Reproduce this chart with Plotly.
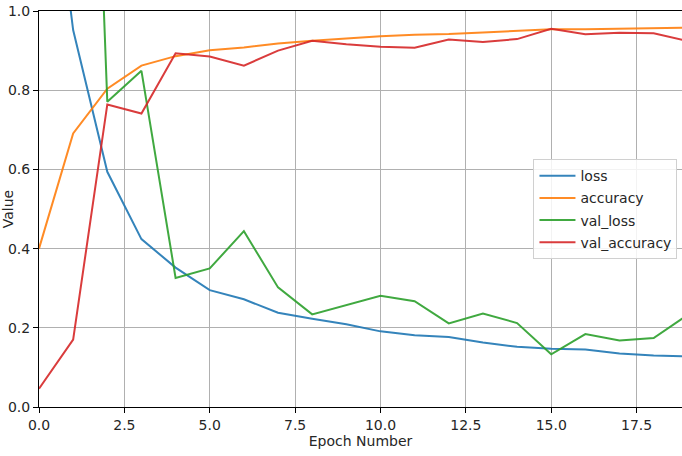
import plotly.graph_objects as go

epochs = list(range(20))
loss = [1.64, 0.952, 0.594, 0.424, 0.352, 0.295, 0.272, 0.238, 0.223, 0.209,
        0.191, 0.181, 0.177, 0.163, 0.152, 0.147, 0.145, 0.135, 0.130, 0.128]
accuracy = [0.400, 0.691, 0.804, 0.862, 0.886, 0.901, 0.908, 0.918, 0.925, 0.931,
            0.936, 0.940, 0.942, 0.946, 0.950, 0.954, 0.954, 0.956, 0.957, 0.958]
val_loss = [2.40, 3.06, 0.771, 0.849, 0.326, 0.350, 0.444, 0.302, 0.234, 0.257,
            0.281, 0.267, 0.211, 0.236, 0.212, 0.133, 0.184, 0.168, 0.174, 0.233]
val_accuracy = [0.046, 0.170, 0.764, 0.741, 0.893, 0.885, 0.862, 0.900, 0.925, 0.916,
                0.910, 0.907, 0.928, 0.922, 0.929, 0.955, 0.941, 0.945, 0.944, 0.924]

series = [("loss", loss, "#1f77b4"), ("accuracy", accuracy, "#ff7f0e"),
          ("val_loss", val_loss, "#2ca02c"), ("val_accuracy", val_accuracy, "#d62728")]

x_ticks = [0, 2.5, 5, 7.5, 10, 12.5, 15, 17.5]
x_tick_labels = ["0.0", "2.5", "5.0", "7.5", "10.0", "12.5", "15.0", "17.5"]
y_ticks = [0, 0.2, 0.4, 0.6, 0.8, 1.0]
y_tick_labels = ["0.0", "0.2", "0.4", "0.6", "0.8", "1.0"]

fig = go.Figure()
for name, vals, color in series:
    fig.add_trace(go.Scatter(x=epochs, y=vals, mode="lines", name=name, legendgroup=name,
                             line=dict(color=color, width=2), opacity=0.9))

font = dict(family="DejaVu Sans", size=14, color="#262626")
fig.update_layout(
    width=682, height=456,
    margin=dict(l=39, r=0, t=11, b=49, autoexpand=False),
    paper_bgcolor="white", plot_bgcolor="white",
    font=font,
    showlegend=True,
    legend=dict(x=0.769, y=0.626, xanchor="left", yanchor="top",
                bgcolor="rgba(255,255,255,0.85)", bordercolor="#d0d0d0", borderwidth=1,
                font=dict(family="DejaVu Sans", size=14, color="#262626"),
                tracegroupgap=1, itemwidth=36),
    xaxis=dict(range=[0, 18.83], tickvals=x_ticks, ticktext=x_tick_labels,
               showgrid=True, gridcolor="#b0b0b0", gridwidth=0.8,
               showline=True, linecolor="black", linewidth=1, mirror=True,
               ticks="outside", ticklen=5, tickcolor="black", zeroline=False,
               automargin=True,
               title=dict(text="Epoch Number", standoff=3, font=font)),
    yaxis=dict(range=[0, 1], tickvals=y_ticks, ticktext=y_tick_labels,
               showgrid=True, gridcolor="#b0b0b0", gridwidth=0.8,
               showline=True, linecolor="black", linewidth=1,
               ticks="outside", ticklen=5, tickcolor="black", zeroline=False,
               automargin=True,
               title=dict(text="Value", standoff=2, font=font)),
)
fig.write_html("out.html", config={"displayModeBar": False},
               post_script="document.body.style.margin='0';document.body.style.overflow='hidden';")
